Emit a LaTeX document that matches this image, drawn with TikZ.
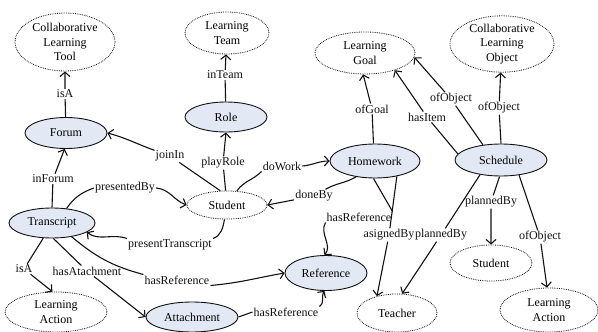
\documentclass[tikz,border=0pt]{standalone}
\usepackage{fontspec}
\setmainfont{Liberation Serif}
\usepackage{tikz}
\usetikzlibrary{arrows.meta,shapes.geometric}
\definecolor{clsfill}{HTML}{E2E9F5}
\definecolor{ink}{HTML}{111111}

\begin{document}
\begin{tikzpicture}[x=1pt,y=1pt,
    font=\fontsize{12}{14.5}\selectfont,
    cls/.style={ellipse,draw=ink,line width=0.9pt,fill=clsfill,inner sep=0pt,align=center},
    ext/.style={ellipse,draw=ink,densely dotted,line width=0.8pt,inner sep=0pt,align=center},
    lbl/.style={inner sep=1pt,fill=white,text=ink},
    arr/.style={draw=ink,line width=1.1pt,-{Straight Barb[length=4.5pt,width=10pt]}}]
  \useasboundingbox (0,0) rectangle (598,-332);
  % classes of the ontology
  \foreach \n/\x/\y/\w/\h/\t in {forum/66/-133/82/31/Forum,role/226/-117/82/30/Role,
      hw/375/-161/90/34/Homework,sched/501/-160/92/32/Schedule,
      tr/52/-223/86/30/Transcript,att/192/-317/92/30/Attachment,ref/326/-273/82/35/Reference}
    \node[cls,minimum width=\w pt,minimum height=\h pt] (\n) at (\x,\y) {\t};
  % referenced (external) concepts
  \foreach \n/\x/\y/\w/\h/\t in {cltool/65/-42/100/58/{Collaborative\\Learning\\Tool},
      lteam/227/-33/84/42/{Learning\\Team},lgoal/365/-53/100/42/{Learning\\Goal},
      clo/502/-44/104/54/{Collaborative\\Learning\\Object},student/227/-205/80/28/Student,
      lactl/56/-312/102/40/{Learning\\Action},teacher/397/-313/80/38/Teacher,
      studr/491/-263/82/36/Student,lactr/549/-310/98/44/{Learning\\Action}}
    \node[ext,minimum width=\w pt,minimum height=\h pt] (\n) at (\x,\y) {\t};

  % property labels
  \node[lbl] (isa1) at (65,-94) {isA};
  \node[lbl] (inteam) at (225,-75) {inTeam};
  \node[lbl] (playrole) at (223,-163) {playRole};
  \node[lbl] (joinin) at (170,-156) {joinIn};
  \node[lbl] (dowork) at (282,-166) {doWork};
  \node[lbl] (doneby) at (314,-196) {doneBy};
  \node[lbl] (ofgoal) at (372,-109) {ofGoal};
  \node[lbl] (hasitem) at (427,-117) {hasItem};
  \node[lbl] (ofobj1) at (451,-99) {ofObject};
  \node[lbl] (ofobj2) at (499,-108) {ofObject};
  \node[lbl] (inforum) at (53,-179) {inForum};
  \node[lbl] (presby) at (125,-188) {presentedBy};
  \node[lbl] (prestr) at (170,-245) {presentTranscript};
  \node[lbl] (isa2) at (24,-269) {isA};
  \node[lbl] (hasatt) at (87,-271) {hasAtachment};
  \node[lbl] (hasref1) at (177,-280) {hasReference};
  \node[lbl] (hasref2) at (286,-312) {hasReference};
  \node[lbl] (hasref3) at (359,-217) {hasReference};
  \node[lbl] (asgby) at (389,-235) {asignedBy};
  \node[lbl] (planby1) at (441,-235) {plannedBy};
  \node[lbl] (planby2) at (491,-202) {plannedBy};
  \node[lbl] (ofobj3) at (540,-237) {ofObject};

  % properties
  \draw[arr] (forum) -- (isa1) -- (cltool);
  \draw[arr] (role) -- (inteam) -- (lteam);
  \draw[arr] (student) -- (playrole) -- (role.-90);
  \draw[arr] (student.115) -- (joinin) to[out=160,in=-15] (forum.east);
  \draw[arr] (student.55) to[out=55,in=-135] (dowork.south west) (dowork.east) to[out=5,in=180] (hw.west);
  \draw[arr] (hw.-140) to[out=-150,in=30] (doneby) -- (student.east);
  \draw[arr] (hw.95) -- (ofgoal) -- (lgoal.-95);
  \draw[arr] (sched.172) -- (hasitem) -- (lgoal.-30);
  \draw[arr] (sched.140) -- (ofobj1) -- (lgoal.-5);
  \draw[arr] (sched.90) -- (ofobj2) -- (clo);
  \draw[arr] (tr.90) -- (inforum) -- (forum.-95);
  \draw[arr] (tr.45) to[out=55,in=-160] (presby.west) (presby.east) to[out=-5,in=160] (student.west);
  \draw[arr] (student.-100) to[out=-100,in=20] (prestr.north east) (prestr.north west) to[out=160,in=-35] (tr.-15);
  \draw[arr] (tr.-120) -- (isa2) -- (lactl.100);
  \draw[arr] (tr.-85) -- (hasatt) -- (att.west);
  \draw[arr] (tr.-35) to[out=-40,in=165] (hasref1.north west) (hasref1.south east) to[out=5,in=190] (ref.west);
  \draw[arr] (att.east) -- (hasref2.west) (hasref2.north east) to[out=30,in=-125] (ref.-95);
  \draw[arr] (hw.-95) -- (hasref3.north east) (hasref3.south west) to[out=-120,in=50] (ref.95);
  \draw[arr] (hw.-35) -- (asgby) -- (teacher.140);
  \draw[arr] (sched.-145) -- (planby1) -- (teacher.75);
  \draw[arr] (sched.-95) -- (planby2) -- (studr);
  \draw[arr] (sched.-40) -- (ofobj3) -- (lactr.95);
\end{tikzpicture}
\end{document}
